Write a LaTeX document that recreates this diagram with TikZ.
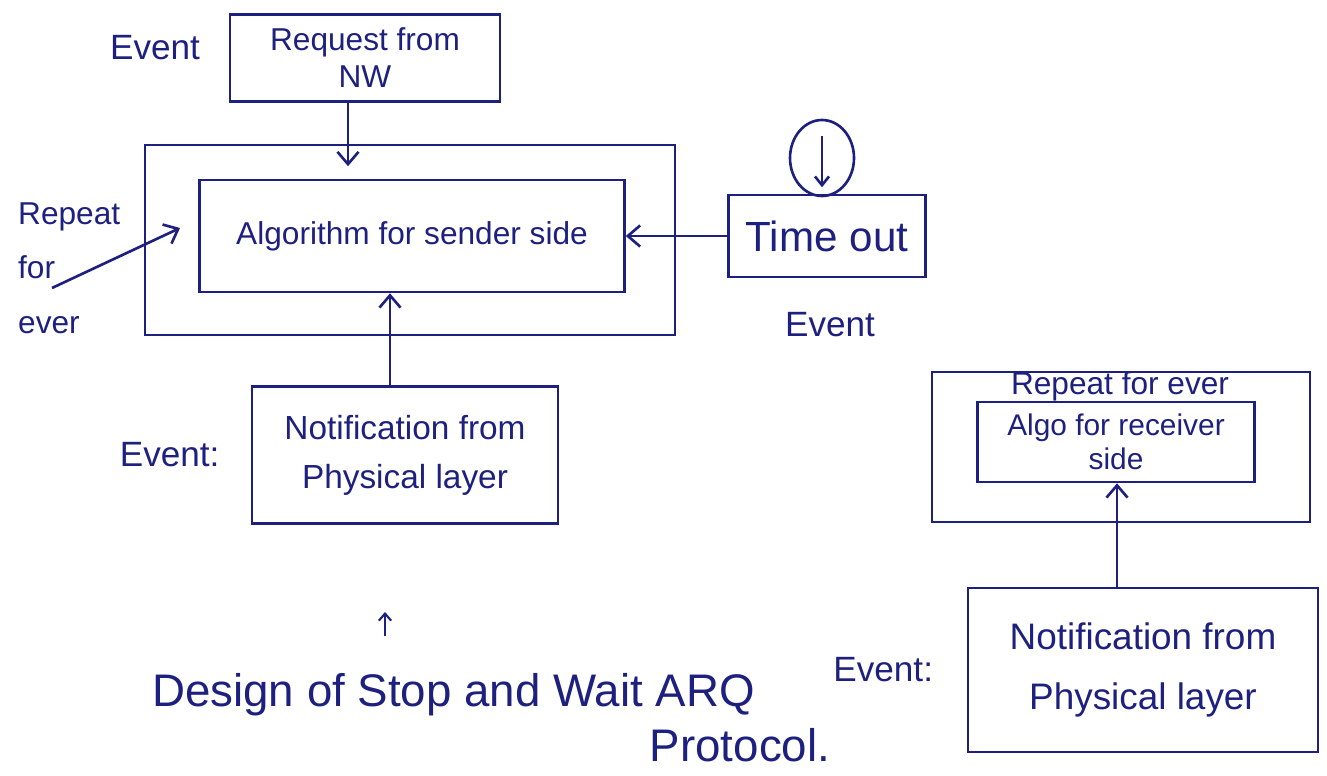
\documentclass[tikz,border=0pt]{standalone}
\usepackage{fontspec}
\setmainfont{Liberation Sans}
\usetikzlibrary{arrows.meta, positioning, shapes.geometric}
\definecolor{ink}{RGB}{30,32,128}

\begin{document}
\begin{tikzpicture}[
    x=0.02cm, y=-0.02cm,
    every node/.style={text=ink},
    box/.style={rectangle, draw=ink, line width=1.5pt, align=center, inner sep=2pt},
    frame/.style={rectangle, draw=ink, line width=1.5pt},
    tag/.style={font=\fontsize{20}{24}\selectfont},
    arrow/.style={-{Straight Barb[length=7pt, width=12pt]}, draw=ink, line width=1.5pt}
]
\useasboundingbox (0,0) rectangle (1327,776);

% sender side
\node[box, minimum width=5.4cm, minimum height=1.74cm, font=\fontsize{18}{21}\selectfont] (req) at (365,58) {Request from\\NW};
\node[tag, left=0.45cm of req, yshift=0.2cm] (evReq) {Event};
\node[frame, minimum width=10.6cm, minimum height=3.8cm] (outerS) at (410,240) {};
\node[box, minimum width=8.5cm, minimum height=2.24cm, font=\fontsize{18}{21}\selectfont] (algoS) at (412,236) {Algorithm for sender side};
\node[box, minimum width=3.94cm, minimum height=1.64cm, font=\fontsize{24}{28}\selectfont] (timeout) at (827,236) {Time out};
\node[draw=ink, line width=1.5pt, ellipse, minimum width=1.28cm, minimum height=1.52cm] (clock) at (822,158) {};
\node[tag] (evTime) at (830,325) {Event};
\node[anchor=west, align=left, font=\fontsize{18}{31}\selectfont] (repS) at (12,268) {Repeat\\for\\ever};
\node[box, minimum width=6.12cm, minimum height=2.74cm, font=\fontsize{19}{28}\selectfont] (notifS) at (405,455) {Notification from\\Physical layer};
\node[tag, left=0.5cm of notifS] (evNotS) {Event:};
\coordinate (repTail) at (52,288);
\coordinate (repHead) at (180,228);

% receiver side
\node[frame, minimum width=7.56cm, minimum height=3cm] (outerR) at (1121,447) {};
\node[inner sep=0pt, font=\fontsize{18}{20}\selectfont] (repR) at (1120,386) {Repeat for ever};
\node[box, minimum width=5.54cm, minimum height=1.6cm, font=\fontsize{17}{19}\selectfont] (algoR) at (1116,442) {Algo for receiver\\side};
\node[box, minimum width=7cm, minimum height=3.28cm, font=\fontsize{21}{34}\selectfont] (notifR) at (1143,670) {Notification from\\Physical layer};
\node[tag, left=0.55cm of notifR] (evNotR) {Event:};

% title
\node[anchor=west, font=\fontsize{26}{30}\selectfont] (title) at (146,695) {Design of Stop and Wait ARQ};
\node[font=\fontsize{26}{30}\selectfont] (title2) at (740,745) {Protocol.};
\coordinate (markLo) at (385,636);
\coordinate (markHi) at (385,612);

\draw[arrow] ([xshift=-0.34cm]req.south) -- ([xshift=-0.34cm, yshift=0.25cm]req.south |- algoS.north);
\draw[arrow] (timeout) -- (algoS);
\draw[arrow] ([xshift=-0.3cm]notifS.north) -- ([xshift=-0.3cm]notifS.north |- algoS.south);
\draw[arrow] (repTail) -- (repHead);
\draw[arrow] ([xshift=-0.52cm]notifR.north) -- ([xshift=-0.52cm]notifR.north |- algoR.south);
\draw[-{Straight Barb[length=4pt, width=7pt]}, ink, line width=1.2pt] (markLo) -- (markHi);
\draw[-{Straight Barb[length=5pt, width=8pt]}, ink, line width=1.5pt] ([yshift=-0.35cm]clock.north) -- ([yshift=0.2cm]clock.south);
\end{tikzpicture}
\end{document}
